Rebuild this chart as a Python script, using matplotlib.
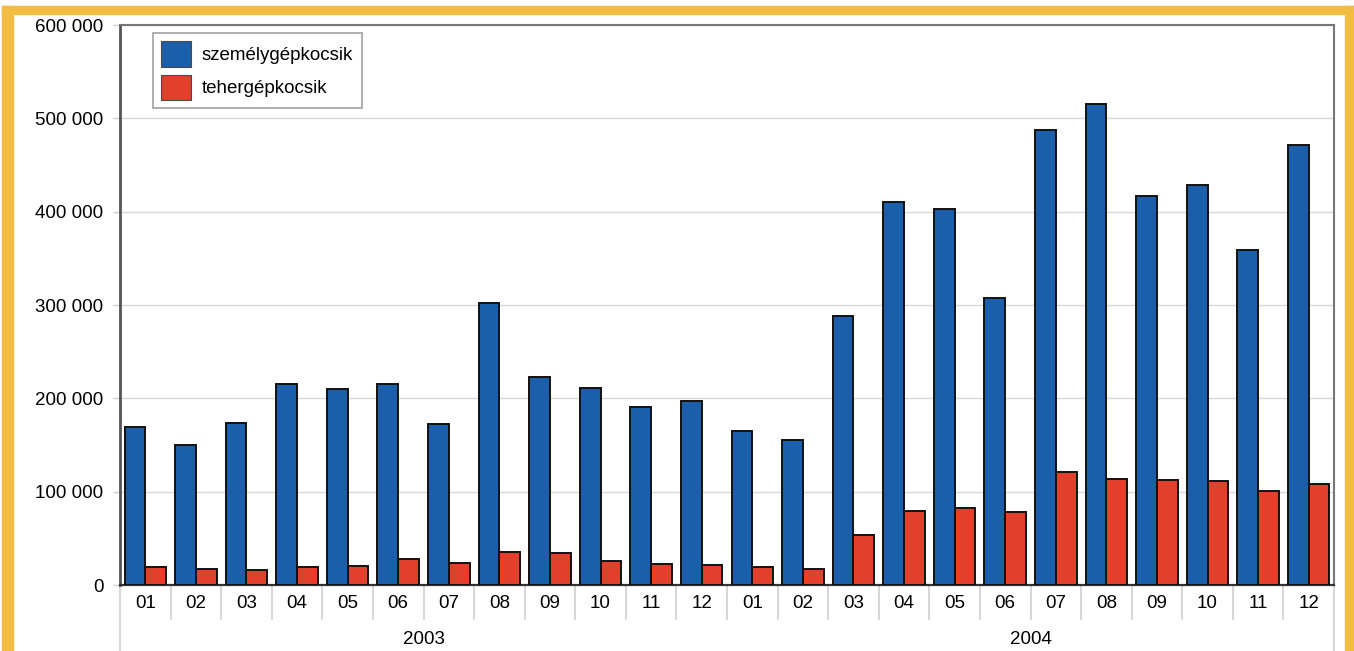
import matplotlib
matplotlib.use("Agg")
import matplotlib.pyplot as plt
from matplotlib.patches import Rectangle, Patch
from matplotlib.transforms import blended_transform_factory, offset_copy
import numpy as np

plt.rcParams['font.family'] = ['Liberation Sans', 'DejaVu Sans']

# Monthly new vehicle counts, 2003-2004
years = ["2003", "2004"]
months = ["01", "02", "03", "04", "05", "06", "07", "08", "09", "10", "11", "12"]
szemelygepkocsik = [
    169000, 150000, 173500, 215000, 210000, 215000, 173000, 302000, 222500, 211500, 191000, 197000,
    165500, 155500, 288000, 410000, 402500, 307500, 488000, 515000, 416500, 429000, 358500, 471000,
]
tehergepkocsik = [
    19000, 17000, 16000, 19000, 20500, 28000, 24000, 35500, 34000, 25500, 22000, 21500,
    19000, 17500, 53500, 79500, 82500, 78500, 121000, 114000, 112500, 111000, 101000, 108500,
]
series_names = ["személygépkocsik", "tehergépkocsik"]
yticks = [0, 100000, 200000, 300000, 400000, 500000, 600000]

blue = "#1b5fab"
red = "#e2402a"
yellow = "#f3bd44"
FS = 13.5

fig = plt.figure(figsize=(13.54, 6.51), dpi=100)
W, H = 1354, 651

# frame band around the figure
fig.patches.append(Rectangle((2 / W, 0), 11 / W, (H - 6) / H, transform=fig.transFigure,
                             color=yellow, zorder=0))
fig.patches.append(Rectangle((1345 / W, 0), 9 / W, (H - 6) / H, transform=fig.transFigure,
                             color=yellow, zorder=0))
fig.patches.append(Rectangle((2 / W, (H - 14) / H), (W - 2) / W, 8 / H, transform=fig.transFigure,
                             color=yellow, zorder=0))

ax = fig.add_axes([120 / W, 66 / H, 1214 / W, 560 / H])

labels = [m for _ in years for m in months]
n = len(labels)
x = np.arange(n)
bw = 0.41
ax.bar(x - bw / 2, szemelygepkocsik, bw, color=blue, edgecolor="#111111", linewidth=1.4, zorder=3)
ax.bar(x + bw / 2, tehergepkocsik, bw, color=red, edgecolor="#111111", linewidth=1.4, zorder=3)

ax.set_xlim(-0.5, n - 0.5)
ax.set_ylim(0, 600000)
ax.set_yticks(yticks)
ax.set_yticklabels([f"{v:,}".replace(",", " ") for v in yticks], fontsize=FS)
ax.tick_params(axis="y", length=5, width=1, color="#cfcfcf", pad=7)
ax.set_xticks([])
ax.grid(axis="y", color="#d8d8d8", linewidth=1, zorder=0)

ax.spines["left"].set_color("#555555")
ax.spines["left"].set_linewidth(2)
ax.spines["top"].set_color("#777777")
ax.spines["top"].set_linewidth(1.5)
ax.spines["right"].set_color("#777777")
ax.spines["right"].set_linewidth(1.5)
ax.spines["bottom"].set_color("#333333")
ax.spines["bottom"].set_linewidth(1.6)

# two-level category axis: months, then years
trans = blended_transform_factory(ax.transData, ax.transAxes)
sep_short = -34 / 560
sep_long = -66 / 560
for b in np.arange(n + 1) - 0.5:
    y_end = sep_long if b in (-0.5, n - 0.5) else sep_short
    ax.plot([b, b], [0, y_end], transform=trans, color="#d0d0d0", lw=1.2, clip_on=False, zorder=1)

month_tr = offset_copy(trans, fig=fig, y=-18 * 72 / 100, units="points")
for xi, lab in zip(x, labels):
    ax.text(xi, 0, lab, transform=month_tr, ha="center", va="center", fontsize=FS)

year_tr = offset_copy(trans, fig=fig, y=-54 * 72 / 100, units="points")
for i, yr in enumerate(years):
    ax.text(i * 12 + 5.5, 0, yr, transform=year_tr, ha="center", va="center", fontsize=FS)

handles = [Patch(facecolor=blue, edgecolor="#4a4a4a", linewidth=0.8),
           Patch(facecolor=red, edgecolor="#4a4a4a", linewidth=0.8)]
leg = ax.legend(handles, series_names, loc="upper left", bbox_to_anchor=(33 / 1214, 1 - 8 / 560),
                fontsize=FS, frameon=True, fancybox=False, handlelength=1.55, handleheight=1.7,
                handletextpad=0.6, labelspacing=0.42, borderpad=0.45, borderaxespad=0)
leg.get_frame().set_edgecolor("#8a8a8a")
leg.get_frame().set_linewidth(1.2)
leg.set_zorder(5)

fig.savefig("out.png", dpi=100)
